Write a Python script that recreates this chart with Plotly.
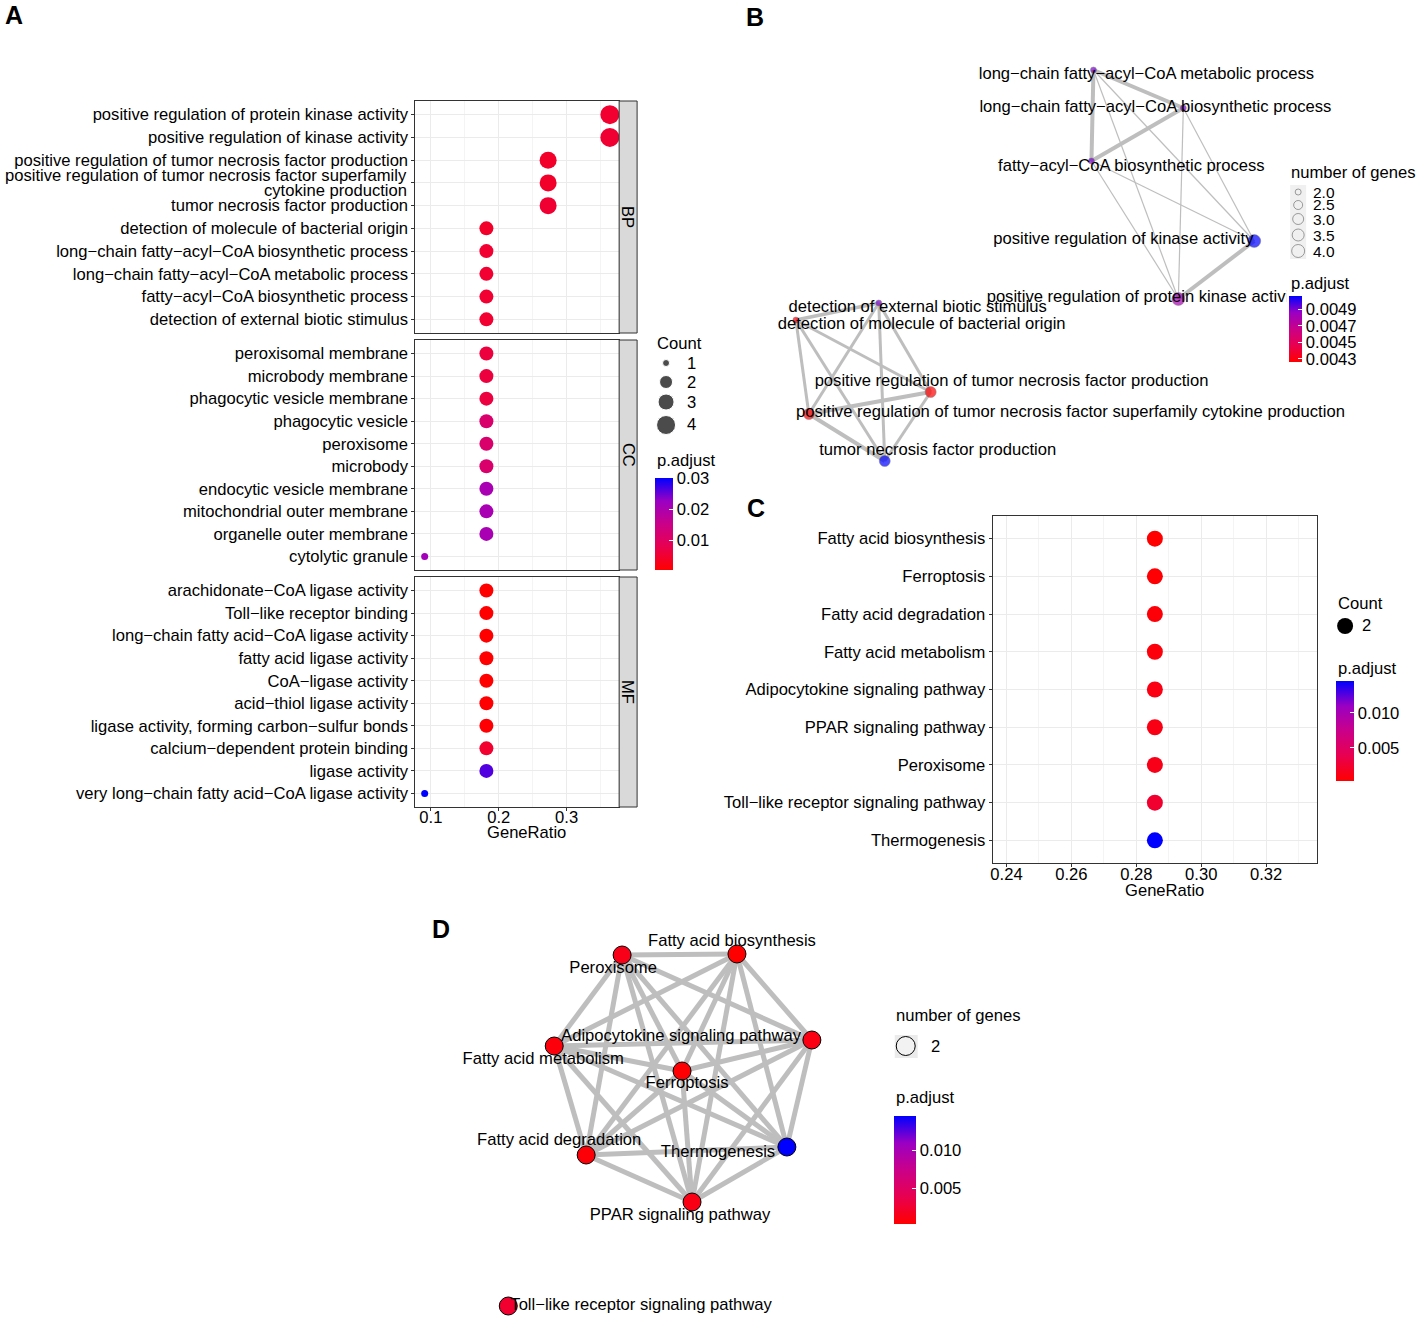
import plotly.graph_objects as go

W, H = 1417, 1318
FONT = "Liberation Sans, Arial, Helvetica, sans-serif"
FS = 16.6
CS = [[0, '#FF0000'], [0.25, '#E8004F'], [0.5, '#CA0089'], [0.75, '#9A00C3'], [1, '#0000FF']]

# ---------------- Panel A data (GO dotplot) ----------------
go_total = 11
bp_terms = ["positive regulation of protein kinase activity",
            "positive regulation of kinase activity",
            "positive regulation of tumor necrosis factor production",
            "positive regulation of tumor necrosis factor superfamily<br>cytokine production",
            "tumor necrosis factor production",
            "detection of molecule of bacterial origin",
            "long−chain fatty−acyl−CoA biosynthetic process",
            "long−chain fatty−acyl−CoA metabolic process",
            "fatty−acyl−CoA biosynthetic process",
            "detection of external biotic stimulus"]
bp_count = [4, 4, 3, 3, 3, 2, 2, 2, 2, 2]
bp_padj = [0.0048, 0.00506, 0.00426, 0.00426, 0.00506, 0.0043, 0.0049, 0.0049, 0.0049, 0.0049]

cc_terms = ["peroxisomal membrane", "microbody membrane", "phagocytic vesicle membrane",
            "phagocytic vesicle", "peroxisome", "microbody", "endocytic vesicle membrane",
            "mitochondrial outer membrane", "organelle outer membrane", "cytolytic granule"]
cc_count = [2, 2, 2, 2, 2, 2, 2, 2, 2, 1]
cc_padj = [0.0062, 0.0062, 0.0064, 0.0115, 0.0115, 0.0115, 0.0205, 0.0205, 0.0205, 0.0215]

mf_terms = ["arachidonate−CoA ligase activity", "Toll−like receptor binding",
            "long−chain fatty acid−CoA ligase activity", "fatty acid ligase activity",
            "CoA−ligase activity", "acid−thiol ligase activity",
            "ligase activity, forming carbon−sulfur bonds", "calcium−dependent protein binding",
            "ligase activity", "very long−chain fatty acid−CoA ligase activity"]
mf_count = [2, 2, 2, 2, 2, 2, 2, 2, 2, 1]
mf_padj = [0.0003, 0.0004, 0.0004, 0.0004, 0.0004, 0.0005, 0.0006, 0.0048, 0.0262, 0.0302]

count_legend = [1, 2, 3, 4]
count_size = {1: 7, 2: 14, 3: 17, 4: 19}
count_legend_size = {1: 7, 2: 13, 3: 16, 4: 19}

# ---------------- Panel B data (GO network) ----------------
b_terms = ["long−chain fatty−acyl−CoA metabolic process",
           "long−chain fatty−acyl−CoA biosynthetic process",
           "fatty−acyl−CoA biosynthetic process",
           "positive regulation of kinase activity",
           "positive regulation of protein kinase activity",
           "detection of external biotic stimulus",
           "detection of molecule of bacterial origin",
           "positive regulation of tumor necrosis factor production",
           "positive regulation of tumor necrosis factor superfamily cytokine production",
           "tumor necrosis factor production"]
b_count = [2, 2, 2, 4, 4, 2, 2, 3, 3, 3]
b_padj = [0.0049, 0.0049, 0.0049, 0.00506, 0.0048, 0.0049, 0.0043, 0.00426, 0.00426, 0.00506]
b_node_x = [1093, 1183, 1091, 1254, 1178, 878, 795, 930, 808, 884]
b_node_y = [70, 108, 161, 241, 299, 303, 320, 392, 414, 461]
b_label_x = [1146, 1155, 1131, 1123, 1144, 917, 921, 1011, 1070, 937]
b_label_y = [75, 108, 167, 240, 298, 308, 325, 382, 413, 451]
b_edges = [(0, 1, 4), (0, 2, 4), (1, 2, 4), (3, 4, 4),
           (0, 3, 1.2), (0, 4, 1.2), (1, 3, 1.2), (1, 4, 1.2), (2, 3, 1.2), (2, 4, 1.2),
           (5, 6, 3.5), (7, 8, 4), (8, 9, 4), (6, 8, 3), (6, 7, 3), (6, 9, 3),
           (5, 8, 3), (5, 7, 3), (5, 9, 3), (7, 9, 3)]
b_size = {2: 6, 3: 11, 4: 13}
b_legend_vals = [2.0, 2.5, 3.0, 3.5, 4.0]
b_legend_size = [6, 9, 11, 12, 13]

# ---------------- Panel C/D data (KEGG) ----------------
kegg_total = 7
kegg_terms = ["Fatty acid biosynthesis", "Ferroptosis", "Fatty acid degradation",
              "Fatty acid metabolism", "Adipocytokine signaling pathway",
              "PPAR signaling pathway", "Peroxisome", "Toll−like receptor signaling pathway",
              "Thermogenesis"]
kegg_count = [2, 2, 2, 2, 2, 2, 2, 2, 2]
kegg_padj = [0.0003, 0.0005, 0.0006, 0.0008, 0.0011, 0.0012, 0.0014, 0.0024, 0.0145]
d_node_x = [736, 681, 585, 553, 811, 691, 621, 507, 786]
d_node_y = [954, 1071, 1155, 1046, 1040, 1202, 955, 1306, 1147]
d_label_x = [731, 686, 558, 542, 680, 679, 612, 640, 717]
d_label_y = [942, 1084, 1141, 1060, 1037, 1216, 969, 1306, 1153]
d_isolated = [7]


def px(x):
    return x / W


def py(y):
    return 1 - y / H


fig = go.Figure()
layout = dict(width=W, height=H, margin=dict(l=0, r=0, t=0, b=0),
              paper_bgcolor='white', plot_bgcolor='rgba(0,0,0,0)',
              font=dict(family=FONT, size=FS, color='black'), showlegend=False)
shapes, annots = [], []


def txt(x, y, s, anchor='left', size=FS, bold=False, angle=0):
    annots.append(dict(x=px(x), y=py(y), xref='paper', yref='paper', text=('<b>%s</b>' % s) if bold else s,
                       showarrow=False, xanchor=anchor, yanchor='middle', textangle=angle,
                       font=dict(size=size, color='black', family=FONT)))


# ---------------- Panel A ----------------
all_ratio = [c / go_total for c in bp_count + cc_count + mf_count]
span = max(all_ratio) - min(all_ratio)
xr_a = [min(all_ratio) - 0.05 * span, max(all_ratio) + 0.05 * span]
facets = [("BP", bp_terms, bp_count, bp_padj, 101, 333),
          ("CC", cc_terms, cc_count, cc_padj, 340, 570),
          ("MF", mf_terms, mf_count, mf_padj, 577, 807)]
allp = bp_padj + cc_padj + mf_padj
for i, (lab, terms, cnt, padj, top, bot) in enumerate(facets, start=1):
    n = len(terms)
    xs = 'x' if i == 1 else 'x%d' % i
    ys = 'y' if i == 1 else 'y%d' % i
    yv = list(range(n, 0, -1))
    fig.add_trace(go.Scatter(x=[c / go_total for c in cnt], y=yv, mode='markers',
                             marker=dict(size=[count_size[c] for c in cnt], color=padj,
                                         coloraxis='coloraxis', line=dict(width=0), opacity=1),
                             xaxis=xs, yaxis=ys, hoverinfo='skip'))
    last = (i == 3)
    # multi-line labels drawn as tight two-line annotations (ggplot line height)
    ticktext = []
    rowh = (bot - top) / (n + 0.2)
    for k, t in enumerate(terms):
        if '<br>' in t:
            ticktext.append('')
            parts = t.split('<br>')
            yc = top + rowh * (0.6 + k)
            for j, part in enumerate(parts):
                txt(408, yc + (j - (len(parts) - 1) / 2) * 15, part, anchor='right')
        else:
            ticktext.append(t)
    layout['xaxis' if i == 1 else 'xaxis%d' % i] = dict(
        domain=[px(414), px(618)], anchor=ys, range=xr_a, tick0=0, dtick=0.1,
        showgrid=True, gridcolor='#EBEBEB', gridwidth=1.1, zeroline=False,
        minor=dict(tick0=0, dtick=0.05, showgrid=True, gridcolor='#F4F4F4', gridwidth=0.6),
        showline=True, mirror=True, linecolor='#333333', linewidth=1,
        ticks='outside' if last else '', ticklen=3, tickcolor='#333333',
        showticklabels=last, ticklabelstandoff=-8, tickfont=dict(size=FS, color='black'))
    layout['yaxis' if i == 1 else 'yaxis%d' % i] = dict(
        domain=[py(bot), py(top)], anchor=xs, range=[0.4, n + 0.6],
        tickvals=yv, ticktext=ticktext, showgrid=True, gridcolor='#EBEBEB', gridwidth=1.1,
        zeroline=False, showline=True, mirror=True, linecolor='#333333', linewidth=1,
        ticks='outside', ticklen=3, tickcolor='#333333', tickfont=dict(size=FS, color='black'))
    shapes.append(dict(type='rect', xref='paper', yref='paper', x0=px(618), x1=px(636),
                       y0=py(bot), y1=py(top), fillcolor='#D9D9D9',
                       line=dict(color='#333333', width=1), layer='above'))
    txt(627, (top + bot) / 2, lab, anchor='center', angle=90)

txt(525, 832, "GeneRatio", anchor='center')
# Count legend (A)
txt(654, 343, "Count")
ly_a = [363, 382, 402, 425]
fig.add_trace(go.Scatter(x=[665] * 4, y=ly_a, mode='markers',
                         marker=dict(size=[count_legend_size[c] for c in count_legend], color='black'),
                         xaxis='x5', yaxis='y5', hoverinfo='skip'))
for c, yy in zip(count_legend, ly_a):
    txt(684, yy, str(c))
txt(654, 461, "p.adjust")

# ---------------- Panel C ----------------
kr = [c / kegg_total for c in kegg_count]
cx = sum(kr) / len(kr)
nk = len(kegg_terms)
kv = list(range(nk, 0, -1))
fig.add_trace(go.Scatter(x=kr, y=kv, mode='markers',
                         marker=dict(size=16, color=kegg_padj, coloraxis='coloraxis3', line=dict(width=0)),
                         xaxis='x4', yaxis='y4', hoverinfo='skip'))
layout['xaxis4'] = dict(domain=[px(992), px(1317)], anchor='y4', range=[cx - 0.05, cx + 0.05],
                        tick0=0, dtick=0.02, tickformat='.2f',
                        showgrid=True, gridcolor='#EBEBEB', gridwidth=1.1, zeroline=False,
                        minor=dict(tick0=0, dtick=0.01, showgrid=True, gridcolor='#F4F4F4', gridwidth=0.6),
                        showline=True, mirror=True, linecolor='#333333', linewidth=1,
                        ticks='outside', ticklen=3, tickcolor='#333333', ticklabelstandoff=-7,
                        tickfont=dict(size=FS, color='black'))
layout['yaxis4'] = dict(domain=[py(863), py(516)], anchor='x4', range=[0.4, nk + 0.6],
                        tickvals=kv, ticktext=kegg_terms, showgrid=True, gridcolor='#EBEBEB', gridwidth=1.1,
                        zeroline=False, showline=True, mirror=True, linecolor='#333333', linewidth=1,
                        ticks='outside', ticklen=3, tickcolor='#333333', tickfont=dict(size=FS, color='black'))
txt(1164, 890, "GeneRatio", anchor='center')
txt(1336, 603, "Count")
fig.add_trace(go.Scatter(x=[1345], y=[626], mode='markers', marker=dict(size=16, color='black'),
                         xaxis='x5', yaxis='y5', hoverinfo='skip'))
txt(1360, 626, str(kegg_count[0]))
txt(1336, 668, "p.adjust")

# ---------------- Panel B (network) ----------------
for w in sorted(set(e[2] for e in b_edges)):
    ex, ey = [], []
    for a, b, ww in b_edges:
        if ww == w:
            ex += [b_node_x[a], b_node_x[b], None]
            ey += [b_node_y[a], b_node_y[b], None]
    fig.add_trace(go.Scatter(x=ex, y=ey, mode='lines', line=dict(color='#BEBEBE', width=w),
                             xaxis='x5', yaxis='y5', hoverinfo='skip'))
fig.add_trace(go.Scatter(x=b_node_x, y=b_node_y, mode='markers',
                         marker=dict(size=[b_size[c] for c in b_count], color=b_padj, coloraxis='coloraxis2',
                                     line=dict(color='#555555', width=0.5)),
                         xaxis='x5', yaxis='y5', hoverinfo='skip'))
fig.add_trace(go.Scatter(x=b_label_x, y=b_label_y, mode='text', text=b_terms, textposition='middle center',
                         textfont=dict(size=FS, color='black', family=FONT),
                         xaxis='x5', yaxis='y5', hoverinfo='skip'))
# legend background hides overflow of label
shapes.append(dict(type='rect', xref='paper', yref='paper', x0=px(1286), x1=1, y0=py(307), y1=py(289),
                   fillcolor='white', line=dict(width=0), layer='above'))
txt(1289, 173, "number of genes")
shapes.append(dict(type='rect', xref='paper', yref='paper', x0=px(1290), x1=px(1306), y0=py(259), y1=py(185),
                   fillcolor='#F0F0F0', line=dict(width=0), layer='below'))
ly_b = [192, 205, 219, 235, 251]
fig.add_trace(go.Scatter(x=[1298] * 5, y=ly_b, mode='markers',
                         marker=dict(size=b_legend_size, color='rgba(255,255,255,0)',
                                     line=dict(color='#555555', width=0.8)),
                         xaxis='x5', yaxis='y5', hoverinfo='skip'))
for v, yy in zip(b_legend_vals, ly_b):
    txt(1311, yy, "%.1f" % v, size=15.5)
txt(1289, 283, "p.adjust")

# ---------------- Panel D (network) ----------------
ex, ey = [], []
for a in range(len(kegg_terms)):
    for b in range(a + 1, len(kegg_terms)):
        if a in d_isolated or b in d_isolated:
            continue
        ex += [d_node_x[a], d_node_x[b], None]
        ey += [d_node_y[a], d_node_y[b], None]
fig.add_trace(go.Scatter(x=ex, y=ey, mode='lines', line=dict(color='#BEBEBE', width=5),
                         xaxis='x5', yaxis='y5', hoverinfo='skip'))
fig.add_trace(go.Scatter(x=d_node_x, y=d_node_y, mode='markers',
                         marker=dict(size=18, color=kegg_padj, coloraxis='coloraxis4',
                                     line=dict(color='black', width=1)),
                         xaxis='x5', yaxis='y5', hoverinfo='skip'))
fig.add_trace(go.Scatter(x=d_label_x, y=d_label_y, mode='text', text=kegg_terms, textposition='middle center',
                         textfont=dict(size=FS, color='black', family=FONT),
                         xaxis='x5', yaxis='y5', hoverinfo='skip'))
txt(893, 1015, "number of genes")
shapes.append(dict(type='rect', xref='paper', yref='paper', x0=px(894), x1=px(917), y0=py(1058), y1=py(1035),
                   fillcolor='#EBEBEB', line=dict(width=0), layer='below'))
fig.add_trace(go.Scatter(x=[905], y=[1046], mode='markers',
                         marker=dict(size=19, color='#F2F2F2', line=dict(color='black', width=1)),
                         xaxis='x5', yaxis='y5', hoverinfo='skip'))
txt(928, 1046, str(kegg_count[0]))
txt(893, 1097, "p.adjust")

# panel letters
for L, (x, y) in zip("ABCD", [(12, 15), (754, 17), (755, 508), (440, 929)]):
    txt(x, y, L, anchor='center', size=25, bold=True)

layout['xaxis5'] = dict(domain=[0, 1], range=[0, W], visible=False, anchor='y5', fixedrange=True)
layout['yaxis5'] = dict(domain=[0, 1], range=[H, 0], visible=False, anchor='x5', fixedrange=True)


def cbar(x, ytop, length, thick, vals, texts):
    return dict(x=px(x), xanchor='left', y=py(ytop), yanchor='top', len=length, lenmode='pixels',
                thickness=thick, thicknessmode='pixels', xpad=0, ypad=0, outlinewidth=0,
                tickvals=vals, ticktext=texts, ticks='inside', ticklen=4, tickcolor='white',
                tickfont=dict(size=FS, color='black', family=FONT))


layout['coloraxis'] = dict(colorscale=CS, cmin=min(allp), cmax=max(allp),
                           colorbar=cbar(654, 478, 92, 18, [0.01, 0.02, 0.03], ["0.01", "0.02", "0.03"]))
layout['coloraxis2'] = dict(colorscale=CS, cmin=min(b_padj), cmax=max(b_padj),
                            colorbar=cbar(1289, 296, 66, 13, [0.0043, 0.0045, 0.0047, 0.0049],
                                          ["0.0043", "0.0045", "0.0047", "0.0049"]))
layout['coloraxis3'] = dict(colorscale=CS, cmin=min(kegg_padj), cmax=max(kegg_padj),
                            colorbar=cbar(1336, 681, 100, 18, [0.005, 0.010], ["0.005", "0.010"]))
layout['coloraxis4'] = dict(colorscale=CS, cmin=min(kegg_padj), cmax=max(kegg_padj),
                            colorbar=cbar(893, 1116, 108, 22, [0.005, 0.010], ["0.005", "0.010"]))
layout['shapes'] = shapes
layout['annotations'] = annots
fig.update_layout(**layout)
fig.write_html("out.html", config={'displayModeBar': False},
               post_script="document.body.style.margin='0';document.body.style.padding='0';")
